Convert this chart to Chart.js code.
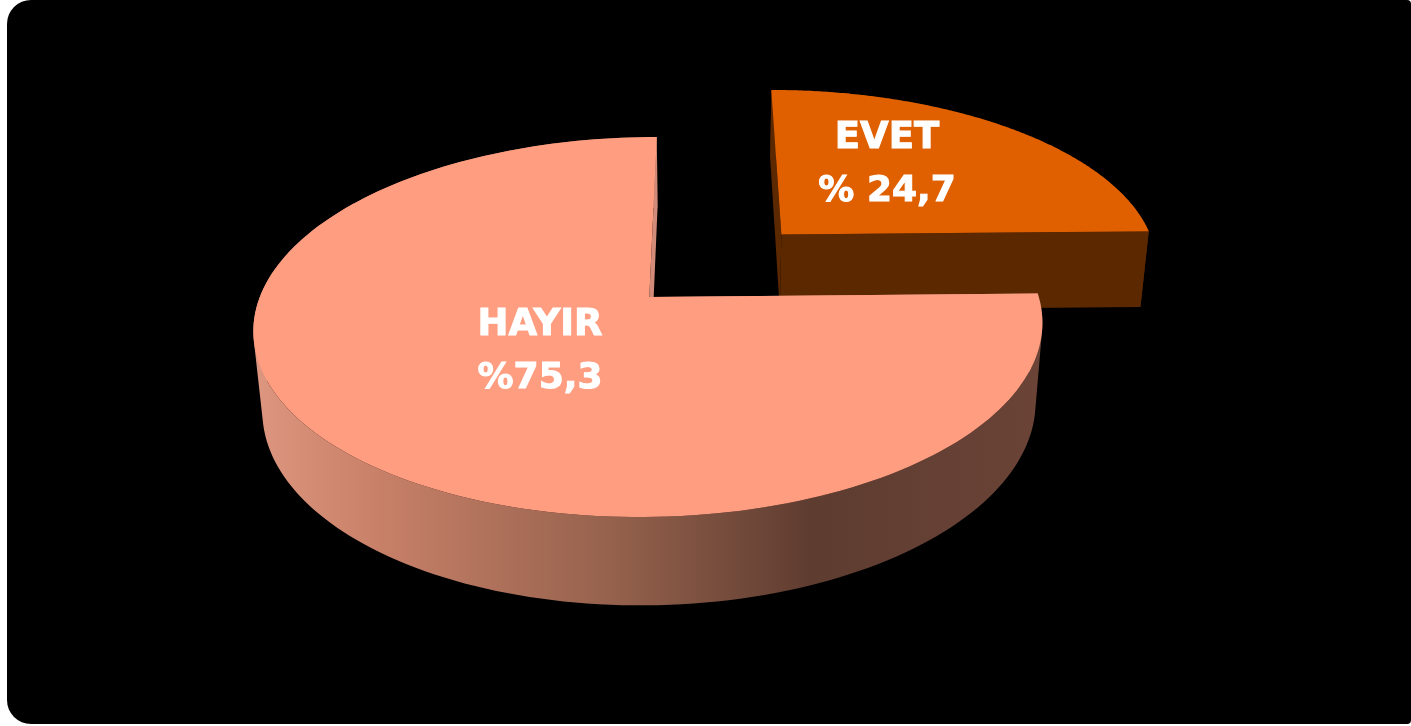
<!DOCTYPE html>
<html>
<head>
<meta charset="utf-8">
<title>EVET / HAYIR</title>
<script src="https://cdn.jsdelivr.net/npm/chart.js@4"></script>
<style>
html, body { margin: 0; padding: 0; background: #fff; overflow: hidden; }
#panel { position: absolute; left: 7px; top: 0; width: 1404px; height: 724px; background: #000; border-radius: 24px 4px 4px 24px; }
#myChart { position: absolute; left: 0; top: 0; }
</style>
</head>
<body>
<div id="panel"></div>
<canvas id="myChart" width="1411" height="726"></canvas>
<script>
const categories = ['EVET', 'HAYIR'];
const percents = [24.7, 75.3];
const percentLabels = ['% 24,7', '%75,3'];

// tilted pie: chart.js works out the angles, the plugin only projects them
const view = { x: 649.3, y: 297, a: 389.5, b: 185.3, skew: -8.7, persp: 0.158, drop: 80.5, shrink: 0.02, slide: 1 };

function project(u, v, lowered) {
    const w = 1 - view.persp * v + (lowered ? view.shrink : 0);
    return {
        x: view.x + (view.a * u + view.skew * v + (lowered ? view.slide : 0)) / w,
        y: view.y + (view.b * v + (lowered ? view.drop : 0)) / w
    };
}

function trace(ctx, pts) {
    ctx.beginPath();
    pts.forEach((p, i) => i ? ctx.lineTo(p.x, p.y) : ctx.moveTo(p.x, p.y));
    ctx.closePath();
}

// all rim quads go in one path, wound the same way, so no seams show
function traceRim(ctx, top, low) {
    ctx.beginPath();
    for (let i = 0; i < top.length - 1; i++) {
        let q = [top[i], top[i + 1], low[i + 1], low[i]];
        let area = 0;
        q.forEach((p, j) => {
            const n = q[(j + 1) % 4];
            area += p.x * n.y - n.x * p.y;
        });
        if (area < 0) q = q.reverse();
        q.forEach((p, j) => j ? ctx.lineTo(p.x, p.y) : ctx.moveTo(p.x, p.y));
        ctx.closePath();
    }
}

const tiltedPie = {
    id: 'tiltedPie',
    beforeDatasetDraw(chart) {
        const ctx = chart.ctx;
        const arcs = chart.getDatasetMeta(0).data;
        const wallFill = ctx.createLinearGradient(255, 0, 1040, 0);
        wallFill.addColorStop(0, '#dd967f');
        wallFill.addColorStop(0.15, '#c98169');
        wallFill.addColorStop(0.45, '#96624d');
        wallFill.addColorStop(0.71, '#5e3c30');
        wallFill.addColorStop(1, '#6b4337');
        const styles = [
            { top: '#e06000', wall: '#5b2800', side: '#5b2800' },
            { top: '#ff9d81', wall: wallFill, side: '#d28b78' }
        ];
        arcs.forEach((arc, i) => {
            const R = arc.outerRadius;
            const mid = (arc.startAngle + arc.endAngle) / 2;
            const off = arc.options.offset / R;
            const cu = Math.cos(mid) * off, cv = Math.sin(mid) * off;
            const top = [], low = [];
            const steps = 180;
            for (let s = 0; s <= steps; s++) {
                const t = arc.startAngle + (arc.endAngle - arc.startAngle) * s / steps;
                top.push(project(cu + Math.cos(t), cv + Math.sin(t), false));
                low.push(project(cu + Math.cos(t), cv + Math.sin(t), true));
            }
            const apexTop = project(cu, cv, false), apexLow = project(cu, cv, true);
            ctx.save();
            // start face, rim, end face, then the flat top
            ctx.fillStyle = styles[i].side;
            trace(ctx, [apexTop, top[0], low[0], apexLow]);
            ctx.fill();
            ctx.fillStyle = styles[i].wall;
            traceRim(ctx, top, low);
            ctx.fill();
            ctx.fillStyle = styles[i].side;
            trace(ctx, [apexTop, top[steps], low[steps], apexLow]);
            ctx.fill();
            ctx.fillStyle = styles[i].top;
            trace(ctx, [apexTop].concat(top));
            ctx.fill();
            ctx.restore();
        });
        return false;
    },
    afterDraw(chart) {
        const ctx = chart.ctx;
        ctx.save();
        ctx.fillStyle = '#fff';
        ctx.strokeStyle = '#fff';
        ctx.lineWidth = 1;
        ctx.textAlign = 'center';
        ctx.textBaseline = 'alphabetic';
        [[categories[0], 887, 148, 37], [percentLabels[0], 887, 201, 36], [categories[1], 540, 335, 37], [percentLabels[1], 540, 388, 36]].forEach(t => {
            ctx.font = 'bold ' + t[3] + 'px "DejaVu Sans"';
            ctx.fillText(t[0], t[1], t[2]);
            ctx.strokeText(t[0], t[1], t[2]);
        });
        ctx.restore();
    }
};

new Chart(document.getElementById('myChart').getContext('2d'), {
    type: 'pie',
    data: {
        labels: categories,
        datasets: [{
            data: percents,
            backgroundColor: ['#e06000', '#ff9d81'],
            borderWidth: 0,
            offset: [150, 0]
        }]
    },
    options: {
        responsive: false,
        animation: false,
        radius: 300,
        plugins: { legend: { display: false }, tooltip: { enabled: false } }
    },
    plugins: [tiltedPie]
});
</script>
</body>
</html>
